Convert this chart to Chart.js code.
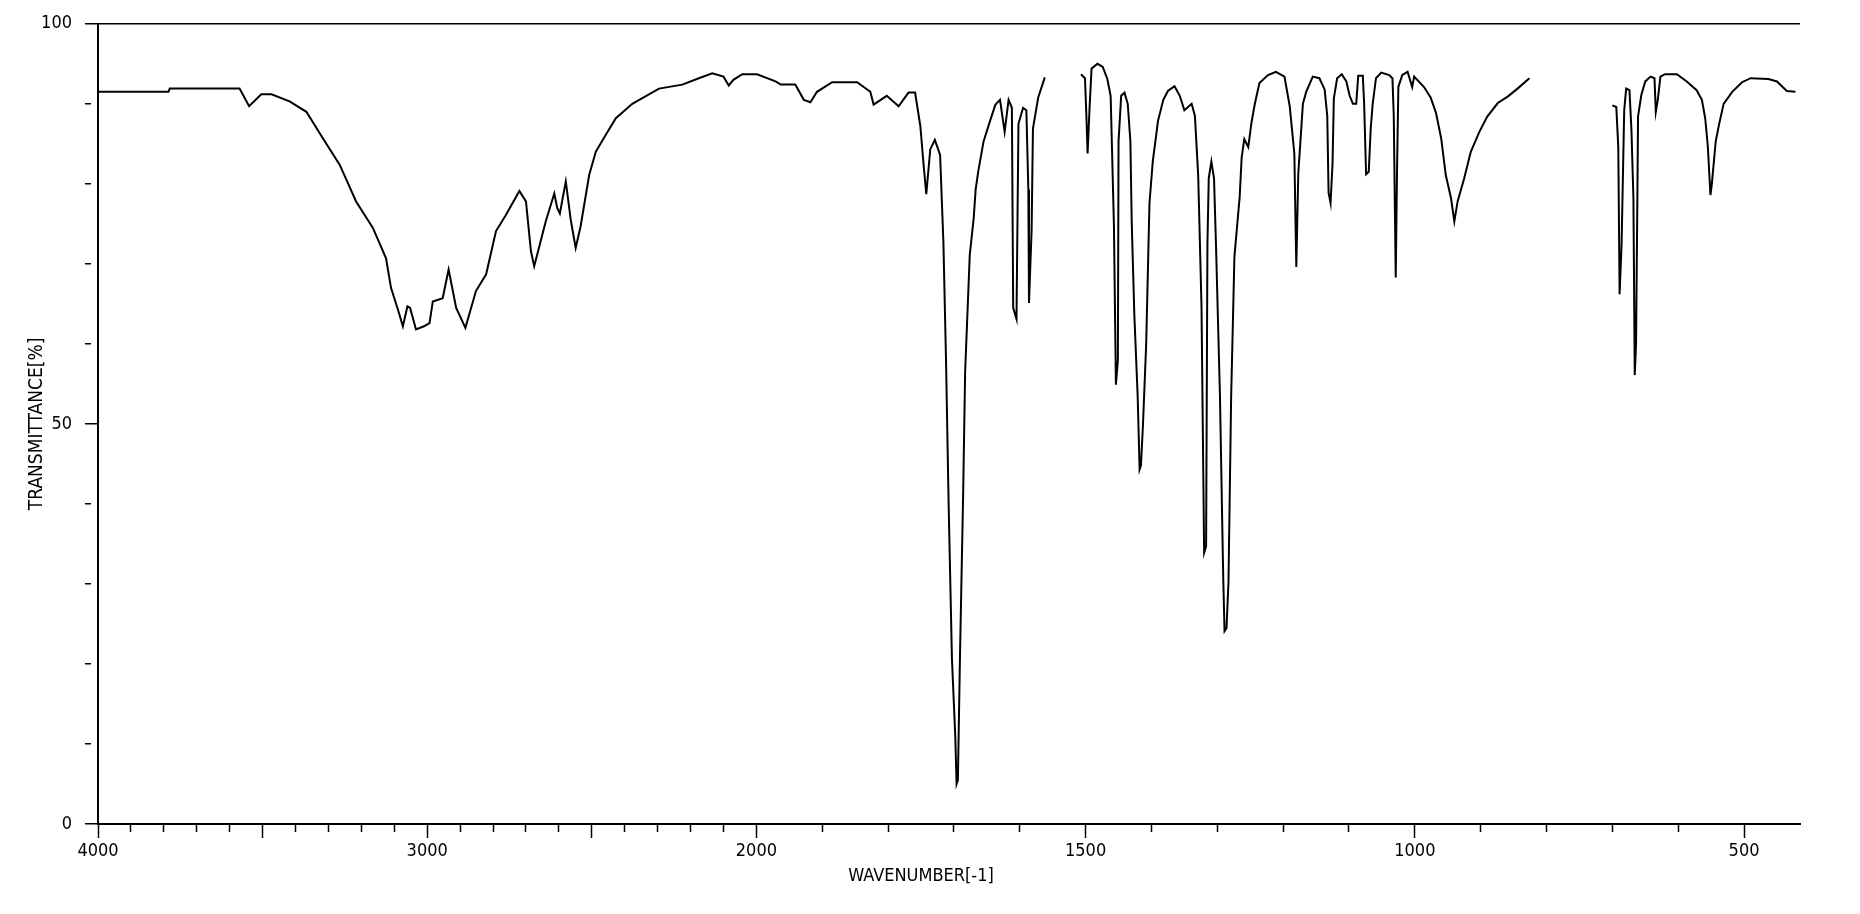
<!DOCTYPE html>
<html>
<head>
<meta charset="utf-8">
<title>IR spectrum</title>
<script src="https://cdn.jsdelivr.net/npm/chart.js@4"></script>
<style>
  html, body { margin: 0; padding: 0; background: #fff; }
  #wrap { width: 1860px; height: 914px; }
</style>
</head>
<body>
<div id="wrap"><canvas id="irChart" width="1860" height="914"></canvas></div>
<script>
// Spectrum: wavenumber (cm-1) and transmittance (%).
// The trace has two gaps, so it is kept as three pieces.
const wnA = [4000, 3786, 3782, 3570, 3541, 3504, 3473, 3418, 3367, 3317, 3266, 3216, 3165, 3125, 3110,
  3089, 3074, 3060, 3052, 3034, 3010, 2993, 2983, 2953, 2935, 2912, 2884, 2852, 2821, 2791, 2761,
  2720, 2700, 2685, 2675, 2640, 2614, 2605, 2597, 2579, 2564, 2549, 2534, 2508, 2488, 2458, 2427,
  2377, 2296, 2225, 2175, 2134, 2100, 2084, 2070, 2043, 1999, 1971, 1963, 1941, 1928, 1918, 1908,
  1885, 1847, 1827, 1822, 1802, 1784, 1769, 1759, 1751, 1746, 1742, 1736, 1729, 1721, 1716, 1712,
  1708, 1703, 1698, 1696, 1694, 1691, 1686, 1683, 1679, 1676, 1670, 1667, 1663, 1655, 1645, 1637,
  1630, 1623, 1617, 1612, 1610, 1605, 1602, 1595, 1590, 1587, 1586, 1582, 1580, 1572, 1562];
const tA = [91.5, 91.5, 91.9, 91.9, 89.7, 91.2, 91.2, 90.3, 89.0, 85.7, 82.4, 77.8, 74.5, 70.7, 67.0,
  64.3, 62.2, 64.7, 64.5, 61.8, 62.2, 62.6, 65.3, 65.7, 69.3, 64.5, 62.0, 66.6, 68.7, 74.1, 76.1,
  79.1, 77.8, 71.6, 69.7, 75.3, 78.8, 77.0, 76.3, 80.3, 75.5, 72.0, 74.7, 81.1, 84.0, 86.1, 88.2,
  90.0, 91.9, 92.4, 93.2, 93.8, 93.4, 92.3, 93.0, 93.7, 93.7, 92.8, 92.4, 92.4, 90.5, 90.2, 91.5,
  92.7, 92.7, 91.5, 89.9, 91.0, 89.7, 91.4, 91.4, 87.2, 82.3, 78.7, 84.3, 85.5, 83.6, 72.7, 57.9,
  39.7, 20.6, 11.0, 5.0, 5.5, 20.2, 41.3, 56.5, 64.8, 71.1, 75.7, 79.3, 81.6, 85.3, 87.9, 89.9,
  90.5, 86.5, 90.5, 89.5, 64.5, 63.1, 87.5, 89.5, 89.2, 79.3, 65.1, 74.3, 86.9, 90.8, 93.3];

const wnB = [1507, 1501, 1499, 1497, 1494, 1491, 1482, 1474, 1467, 1462, 1460, 1457, 1454, 1451, 1450,
  1446, 1441, 1436, 1432, 1430, 1426, 1421, 1418, 1416, 1413, 1408, 1405, 1403, 1398, 1390, 1382,
  1375, 1365, 1357, 1350, 1339, 1334, 1329, 1324, 1320, 1317, 1315, 1313, 1309, 1305, 1302, 1296,
  1291, 1289, 1286, 1283, 1279, 1274, 1266, 1263, 1259, 1253, 1248, 1243, 1236, 1223, 1211, 1198,
  1190, 1183, 1180, 1177, 1170, 1165, 1155, 1145, 1137, 1133, 1131, 1128, 1125, 1123, 1118, 1111,
  1104, 1099, 1094, 1089, 1086, 1079, 1077, 1074, 1070, 1067, 1064, 1059, 1051, 1039, 1034, 1032,
  1029, 1027, 1025, 1019, 1011, 1004, 1001, 986, 976, 968, 960, 953, 945, 940, 935, 925, 915, 902,
  890, 874, 859, 844, 826];
const tB = [93.7, 93.2, 88.9, 83.8, 89.5, 94.4, 95.0, 94.6, 93.1, 91.0, 84.6, 74.8, 54.9, 58.0, 85.3,
  91.0, 91.4, 90.0, 85.3, 75.3, 63.6, 53.6, 44.3, 44.8, 49.7, 60.0, 70.6, 77.6, 82.8, 87.9, 90.5,
  91.6, 92.2, 91.0, 89.2, 90.0, 88.5, 81.0, 64.7, 33.9, 34.7, 72.4, 80.7, 82.8, 80.7, 72.4, 53.6,
  30.8, 24.1, 24.5, 30.3, 53.3, 70.9, 78.4, 83.3, 85.6, 84.6, 87.7, 90.0, 92.6, 93.6, 94.0, 93.4,
  89.7, 83.8, 69.6, 81.3, 90.0, 91.5, 93.4, 93.2, 91.8, 88.5, 78.9, 77.6, 82.5, 90.7, 93.2, 93.7,
  92.8, 91.0, 90.0, 90.0, 93.5, 93.5, 90.0, 81.2, 81.5, 86.9, 90.0, 93.2, 93.9, 93.6, 93.2, 88.5,
  68.3, 81.8, 92.1, 93.6, 94.0, 92.1, 93.4, 92.1, 90.8, 88.9, 85.7, 81.1, 78.2, 75.3, 77.8, 80.7, 84.0, 86.5,
  88.4, 90.1, 90.9, 91.9, 93.2];

const wnC = [700, 694, 691, 689, 686, 682, 679, 674, 671, 668, 666, 664, 662, 661, 656, 650, 642, 636,
  634, 631, 627, 620, 602, 587, 572, 564, 559, 555, 551, 549, 543, 538, 531, 518, 503, 490, 463, 450,
  435, 422];
const tC = [89.8, 89.6, 84.6, 66.2, 72.4, 89.2, 91.9, 91.7, 86.7, 78.2, 56.1, 60.0, 78.2, 88.4, 91.1,
  92.8, 93.4, 93.2, 89.0, 90.5, 93.4, 93.7, 93.7, 92.8, 91.7, 90.5, 88.2, 84.7, 78.6, 79.9, 85.3,
  87.4, 90.0, 91.5, 92.7, 93.2, 93.1, 92.8, 91.6, 91.5];

// axis ticks
const xLabelled = [4000, 3000, 2000, 1500, 1000, 500];
const xMajor = [4000, 3500, 3000, 2500, 2000, 1500, 1000, 500];
const yLabelled = [0, 50, 100];
const xTitle = 'WAVENUMBER[-1]';
const yTitle = 'TRANSMITTANCE[%]';

const WN_MAX = 4000, WN_MIN = 415;
const BREAK_WN = 2000; // below this the axis is stretched twice as wide

// linear scale with a change of scale at 2000 cm-1, high wavenumbers on the left
class WavenumberScale extends Chart.LinearScale {
  _u(v) { return v >= BREAK_WN ? v - BREAK_WN : 2 * (v - BREAK_WN); }
  getPixelForValue(value) {
    const uMax = this._u(this.max), uMin = this._u(this.min);
    return this.left + (uMax - this._u(value)) / (uMax - uMin) * this.width;
  }
  getValueForPixel(pixel) {
    const uMax = this._u(this.max), uMin = this._u(this.min);
    const u = uMax - (pixel - this.left) / this.width * (uMax - uMin);
    return u >= 0 ? u + BREAK_WN : u / 2 + BREAK_WN;
  }
}
WavenumberScale.id = 'wavenumber';
WavenumberScale.defaults = Chart.LinearScale.defaults;
Chart.register(WavenumberScale);

const xTicks = [];
for (let v = 4000; v >= 500; v -= 100) xTicks.push(v);

const toPoints = (wn, t) => wn.map((w, i) => ({ x: w, y: t[i] }));
const trace = (wn, t) => ({
  data: toPoints(wn, t),
  borderColor: '#000',
  borderWidth: 2,
  pointRadius: 0,
  tension: 0,
  fill: false
});

const labelFont = { family: '"Liberation Sans Narrow", "DejaVu Sans Condensed", "Roboto Condensed", sans-serif', size: 18 };

// x axis title sits a little left of centre in the original
const xTitlePlugin = {
  id: 'xTitle',
  afterDraw(chart) {
    const ctx = chart.ctx;
    ctx.save();
    ctx.font = '18px ' + labelFont.family;
    ctx.fillStyle = '#000';
    ctx.textAlign = 'center';
    ctx.textBaseline = 'middle';
    ctx.fillText(xTitle, 921, 876);
    ctx.restore();
  }
};

new Chart(document.getElementById('irChart'), {
  type: 'line',
  data: { datasets: [trace(wnA, tA), trace(wnB, tB), trace(wnC, tC)] },
  options: {
    responsive: false,
    animation: false,
    events: [],
    layout: { padding: { left: 0, top: 22, right: 60, bottom: 0 } },
    plugins: { legend: { display: false }, tooltip: { enabled: false }, title: { display: false } },
    scales: {
      x: {
        type: 'wavenumber',
        min: WN_MIN,
        max: WN_MAX,
        afterBuildTicks: s => { s.ticks = xTicks.map(v => ({ value: v })); },
        afterFit: s => { s.height = 90; },
        border: { display: true, color: '#000', width: 2 },
        grid: {
          drawOnChartArea: false,
          drawTicks: true,
          tickLength: 14,
          tickColor: '#000',
          tickWidth: 1.5,
          tickBorderDash: c => xMajor.includes(c.tick.value) ? [] : [7, 40]
        },
        ticks: {
          autoSkip: false,
          maxRotation: 0,
          padding: 3,
          color: '#000',
          font: labelFont,
          callback: v => xLabelled.includes(v) ? String(v) : ''
        }
      },
      y: {
        min: 0,
        max: 100,
        afterFit: s => { s.width = 98; },
        border: { display: true, color: '#000', width: 2 },
        grid: {
          drawOnChartArea: true,
          color: c => c.tick.value === 100 ? '#000' : 'rgba(0,0,0,0)',
          lineWidth: 1.5,
          tickLength: 13,
          tickColor: '#000',
          tickWidth: 1.5,
          tickBorderDash: c => yLabelled.includes(c.tick.value) ? [] : [6, 40]
        },
        ticks: {
          stepSize: 10,
          padding: 13,
          color: '#000',
          font: labelFont,
          callback: v => yLabelled.includes(v) ? String(v) : ''
        },
        title: {
          display: true,
          text: yTitle,
          color: '#000',
          font: { family: labelFont.family, size: 19 },
          padding: { top: 26, bottom: 0 }
        }
      }
    }
  },
  plugins: [xTitlePlugin]
});
</script>
</body>
</html>
